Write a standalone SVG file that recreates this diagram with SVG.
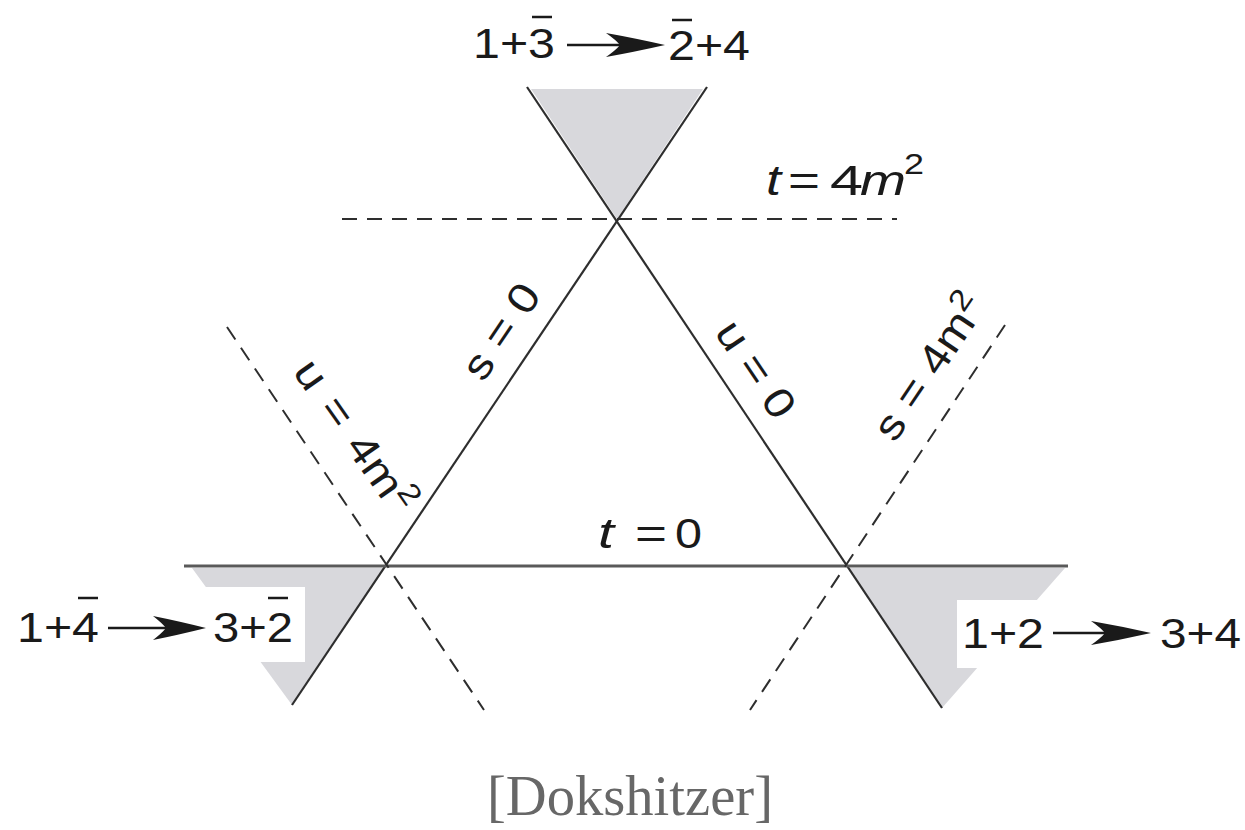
<svg xmlns="http://www.w3.org/2000/svg" width="1245" height="830" viewBox="0 0 1245 830">
<style>
.shade{fill:#d8d8dc;stroke:none}
.mask{fill:#ffffff;stroke:none}
.solid{stroke:#2e2e2e;stroke-width:2.2;fill:none}
.axis{stroke:#5a5a5a;stroke-width:3;fill:none}
.dash{stroke:#2e2e2e;stroke-width:2;fill:none;stroke-dasharray:15 10}
.lbl{font-family:"Liberation Sans",Arial,sans-serif;font-size:42px;fill:#1a1a1a}
.it{font-style:italic}
.bar{stroke:#1a1a1a;stroke-width:2.5}
.arr{stroke:#1a1a1a;stroke-width:2.5;fill:none}
.head{fill:#1a1a1a;stroke:none}
.cap{font-family:"Liberation Serif","Times New Roman",serif;font-size:58px;fill:#676767}
</style>

<g id="regions">
  <polygon class="shade" points="531,89 703,89 617,219"/>
  <polygon class="shade" points="192,568 385,568 292,705"/>
  <polygon class="shade" points="848,568 1065,568 942,708"/>
  <rect class="mask" x="0" y="587" width="305" height="75"/>
  <rect class="mask" x="957" y="600" width="288" height="68"/>
</g>

<g id="connectors">
  <line id="s0" class="solid" x1="707" y1="87" x2="292" y2="705"/>
  <line id="u0" class="solid" x1="527" y1="87" x2="942" y2="708"/>
  <line id="t0" class="axis" x1="184" y1="566" x2="1068" y2="566"/>
  <line id="t4m2" class="dash" x1="342" y1="219" x2="897" y2="219"/>
  <line id="u4m2" class="dash" x1="227" y1="327" x2="484" y2="710"/>
  <line id="s4m2" class="dash" x1="1005" y1="325" x2="750" y2="710"/>
</g>

<g id="label-top">
  <text class="lbl" x="473" y="58" textLength="82" lengthAdjust="spacingAndGlyphs">1+3</text>
  <line class="bar" x1="532" y1="17" x2="552" y2="17"/>
  <line class="arr" x1="567" y1="45" x2="630" y2="45"/>
  <path class="head" d="M665,45 Q634,38 606,33 Q616,40 620,45 Q616,50 606,57 Q634,52 665,45 Z"/>
  <text class="lbl" x="668" y="60" textLength="82" lengthAdjust="spacingAndGlyphs">2+4</text>
  <line class="bar" x1="672" y1="20" x2="692" y2="20"/>
</g>

<g id="label-left">
  <text class="lbl" x="17" y="642" textLength="82" lengthAdjust="spacingAndGlyphs">1+4</text>
  <line class="bar" x1="78" y1="598" x2="98" y2="598"/>
  <line class="arr" x1="108" y1="628" x2="170" y2="628"/>
  <path class="head" d="M206,628 Q178,621 153,616 Q162,623 166,628 Q162,633 153,640 Q178,635 206,628 Z"/>
  <text class="lbl" x="213" y="642" textLength="80" lengthAdjust="spacingAndGlyphs">3+2</text>
  <line class="bar" x1="268" y1="598" x2="288" y2="598"/>
</g>

<g id="label-right">
  <text class="lbl" x="962" y="648" textLength="82" lengthAdjust="spacingAndGlyphs">1+2</text>
  <line class="arr" x1="1053" y1="633" x2="1115" y2="633"/>
  <path class="head" d="M1151,633 Q1120,626 1091,621 Q1101,628 1105,633 Q1101,638 1091,645 Q1120,640 1151,633 Z"/>
  <text class="lbl" x="1160" y="648" textLength="81" lengthAdjust="spacingAndGlyphs">3+4</text>
</g>

<g id="label-t4m2">
  <text class="lbl it" x="766" y="195" textLength="15" lengthAdjust="spacingAndGlyphs">t</text>
  <text class="lbl" x="788" y="195" textLength="32" lengthAdjust="spacingAndGlyphs">=</text>
  <text class="lbl" x="830" y="195" textLength="33" lengthAdjust="spacingAndGlyphs">4</text>
  <text class="lbl it" x="860" y="195" textLength="46" lengthAdjust="spacingAndGlyphs">m</text>
  <text class="lbl" x="904" y="174" style="font-size:30px" textLength="20" lengthAdjust="spacingAndGlyphs">2</text>
</g>

<g id="label-t0">
  <text class="lbl it" x="598" y="548" textLength="16" lengthAdjust="spacingAndGlyphs">t</text>
  <text class="lbl" x="635" y="548" textLength="32" lengthAdjust="spacingAndGlyphs">=</text>
  <text class="lbl" x="675" y="548" textLength="27" lengthAdjust="spacingAndGlyphs">0</text>
</g>

<g id="label-s0">
  <text class="lbl" text-anchor="middle" x="0" y="13" transform="translate(502,332) rotate(-56) scale(1.15,1)">s = 0</text>
</g>

<g id="label-u0">
  <text class="lbl" text-anchor="middle" x="0" y="13" transform="translate(755,370) rotate(56) scale(1.15,1)">u = 0</text>
</g>

<g id="label-u4m2">
  <text class="lbl" text-anchor="middle" x="0" y="11" word-spacing="4" transform="translate(352,438) rotate(55) scale(1.15,1)">u = 4m<tspan dy="-16" style="font-size:30px">2</tspan></text>
</g>

<g id="label-s4m2">
  <text class="lbl" text-anchor="middle" x="0" y="11" transform="translate(932,369) rotate(-56) scale(1.15,1)">s = 4m<tspan dy="-16" style="font-size:30px">2</tspan></text>
</g>

<g id="caption">
  <text class="cap" x="630" y="815" text-anchor="middle" textLength="286" lengthAdjust="spacingAndGlyphs">[Dokshitzer]</text>
</g>
</svg>
